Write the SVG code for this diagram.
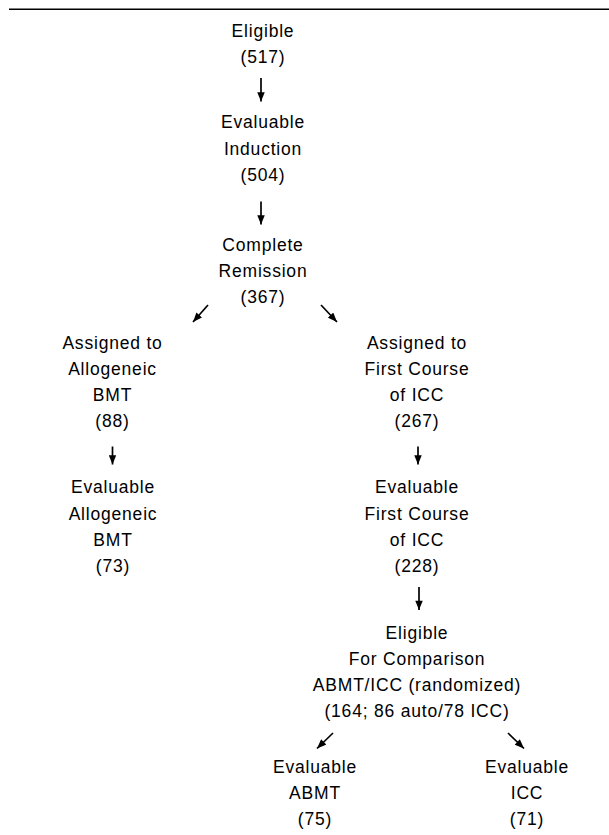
<svg xmlns="http://www.w3.org/2000/svg" width="609" height="835" viewBox="0 0 609 835">
<style>
text{font-family:"Liberation Sans",Arial,sans-serif;font-size:17.5px;letter-spacing:0.8px;fill:#000;text-anchor:middle}
.c{stroke:#000;stroke-width:1.7;fill:none;marker-end:url(#ah)}
</style>
<defs>
<marker id="ah" viewBox="0 0 10 8" refX="10" refY="4" markerWidth="10" markerHeight="7.5" markerUnits="userSpaceOnUse" orient="auto">
<path d="M0,0 L10,4 L0,8 z" fill="#000"/>
</marker>
</defs>
<rect width="609" height="835" fill="#fff"/>
<line x1="9" y1="9.2" x2="609" y2="9.2" stroke="#000" stroke-width="1.6"/>
<g id="connectors">
<line class="c" x1="261" y1="78" x2="261" y2="101.5"/>
<line class="c" x1="261" y1="201.5" x2="261" y2="224.5"/>
<line class="c" x1="208" y1="305" x2="193" y2="322"/>
<line class="c" x1="321" y1="305" x2="337" y2="322"/>
<line class="c" x1="112.5" y1="446.5" x2="112.5" y2="464.5"/>
<line class="c" x1="418" y1="446.5" x2="418" y2="464.5"/>
<line class="c" x1="419" y1="587" x2="419" y2="610"/>
<line class="c" x1="333" y1="733" x2="317" y2="748.5"/>
<line class="c" x1="508" y1="733" x2="524" y2="748.5"/>
</g>
<g id="eligible">
<text x="263" y="37">Eligible</text>
<text x="263" y="63.3">(517)</text>
</g>
<g id="evaluable-induction">
<text x="263" y="128.3">Evaluable</text>
<text x="263" y="154.6">Induction</text>
<text x="263" y="180.9">(504)</text>
</g>
<g id="complete-remission">
<text x="263" y="250.7">Complete</text>
<text x="263" y="277">Remission</text>
<text x="263" y="303.3">(367)</text>
</g>
<g id="assigned-allo">
<text x="112.5" y="348.5">Assigned to</text>
<text x="112.5" y="374.8">Allogeneic</text>
<text x="112.5" y="401.1">BMT</text>
<text x="112.5" y="427.4">(88)</text>
</g>
<g id="evaluable-allo">
<text x="113" y="493.3">Evaluable</text>
<text x="113" y="519.6">Allogeneic</text>
<text x="113" y="545.9">BMT</text>
<text x="113" y="572.2">(73)</text>
</g>
<g id="assigned-icc">
<text x="417" y="348.5">Assigned to</text>
<text x="417" y="374.8">First Course</text>
<text x="417" y="401.1">of ICC</text>
<text x="417" y="427.4">(267)</text>
</g>
<g id="evaluable-icc">
<text x="417" y="493.3">Evaluable</text>
<text x="417" y="519.6">First Course</text>
<text x="417" y="545.9">of ICC</text>
<text x="417" y="572.2">(228)</text>
</g>
<g id="eligible-comparison">
<text x="417" y="638.5">Eligible</text>
<text x="417" y="664.8">For Comparison</text>
<text x="417" y="691.1">ABMT/ICC (randomized)</text>
<text x="417" y="717.4">(164; 86 auto/78 ICC)</text>
</g>
<g id="evaluable-abmt">
<text x="315" y="772.7">Evaluable</text>
<text x="315" y="799">ABMT</text>
<text x="315" y="825.3">(75)</text>
</g>
<g id="evaluable-icc-final">
<text x="527" y="772.7">Evaluable</text>
<text x="527" y="799">ICC</text>
<text x="527" y="825.3">(71)</text>
</g>
</svg>
